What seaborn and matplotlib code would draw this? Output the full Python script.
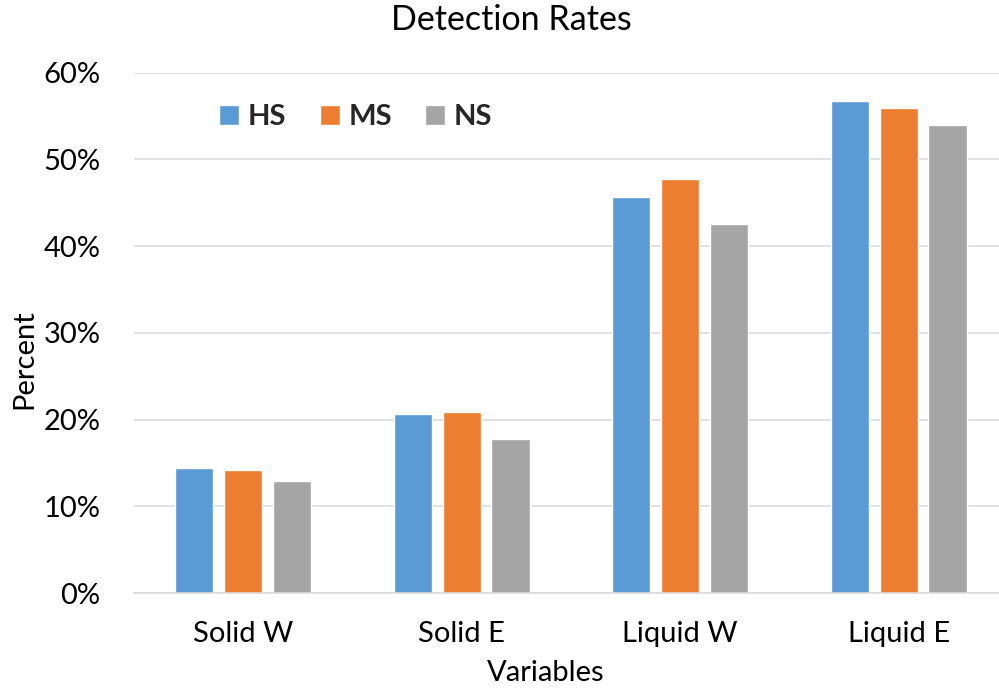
import matplotlib.pyplot as plt
import pandas as pd
import seaborn as sns
from matplotlib.ticker import PercentFormatter

# Values (percent)
categories = ["Solid W", "Solid E", "Liquid W", "Liquid E"]
groups = ["HS", "MS", "NS"]
hs = [14.4, 20.6, 45.7, 56.7]
ms = [14.2, 20.9, 47.7, 55.9]
ns = [12.9, 17.8, 42.5, 54.0]
colors = ["#5B9BD5", "#ED7D31", "#A5A5A5"]

df = pd.DataFrame({
    "Variables": categories * 3,
    "Group": [g for g in groups for _ in categories],
    "Percent": hs + ms + ns,
})

sns.set_theme(style="white")
plt.rcParams["font.family"] = ["Lato", "DejaVu Sans"]

fig = plt.figure(figsize=(9.99, 6.89), dpi=100)
ax = fig.add_axes([0.134, 0.1393, 0.875, 0.7552])

sns.barplot(data=df, x="Variables", y="Percent", hue="Group",
            hue_order=groups, palette=colors, width=0.67, gap=0.22,
            saturation=1, ax=ax)

ax.set_ylim(0, 60)
ax.set_xlim(-0.5, 3.5)
ax.set_yticks(range(0, 61, 10))
ax.yaxis.set_major_formatter(PercentFormatter(decimals=0))
ax.grid(axis="y", color="#D9D9D9", linewidth=1.1)
ax.set_axisbelow(True)
for s in ["top", "right", "left"]:
    ax.spines[s].set_visible(False)
ax.spines["bottom"].set_color("#D9D9D9")
ax.spines["bottom"].set_linewidth(1.1)
ax.tick_params(axis="y", length=0, pad=24, labelsize=21, labelcolor="black")
ax.tick_params(axis="x", length=0, pad=20, labelsize=21, labelcolor="black")
ax.set_xlabel("")
ax.set_ylabel("")

fig.text(0.512, 0.971, "Detection Rates", ha="center", va="center",
         fontsize=24.5, color="black")
fig.text(0.024, 0.479, "Percent", ha="center", va="center",
         rotation=90, fontsize=21, color="black")
fig.text(0.546, 0.023, "Variables", ha="center", va="center",
         fontsize=21, color="black")

sns.move_legend(ax, "center left", bbox_to_anchor=(0.193, 0.830),
                bbox_transform=fig.transFigure, ncol=3, frameon=False,
                title=None, handlelength=0.68, handleheight=0.68,
                handletextpad=0.3, columnspacing=1.15,
                prop={"weight": "bold", "size": 21})

plt.savefig("out.png", dpi=100)
